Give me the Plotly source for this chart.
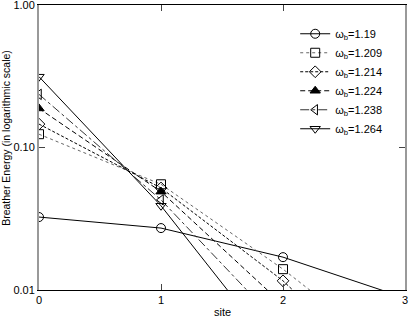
import plotly.graph_objects as go

# breather energy per site (site 3 and some site 2
# values lie below 0.01 and are clipped by the axis range, like the original)
sites = [0, 1, 2, 3]
omega_labels = ['1.19', '1.209', '1.214', '1.224', '1.238', '1.264']
e_119 = [0.0325, 0.0272, 0.0170, 0.0088]
e_1209 = [0.124, 0.0552, 0.0140, 0.0030]
e_1214 = [0.146, 0.0520, 0.0116, 0.0018]
e_1224 = [0.188, 0.0490, 0.0079, 0.0015]
e_1238 = [0.236, 0.0429, 0.0054, 0.0010]
e_1264 = [0.314, 0.0390, 0.0032, 0.0005]

series = [e_119, e_1209, e_1214, e_1224, e_1238, e_1264]
symbols = ['circle-open', 'square-open', 'diamond-open', 'triangle-up',
           'triangle-left-open', 'triangle-down-open']
dashes = ['solid', 'dot', '3px,2px', '5px,3px', 'dashdot', 'solid']
line_colors = ['black', '#666666', 'black', 'black', '#333333', 'black']

fig = go.Figure()
for vals, lab, sym, dash, lc in zip(series, omega_labels, symbols, dashes, line_colors):
    fig.add_trace(go.Scatter(
        x=sites, y=vals, mode='lines+markers',
        name='ω<sub>b</sub>=' + lab,
        line=dict(color=lc, width=1, dash=dash),
        marker=dict(symbol=sym, size=9, color='black',
                    line=dict(color='black', width=1)),
        cliponaxis=True,
    ))

fig.update_layout(
    width=411, height=327,
    margin=dict(l=39, r=6, t=5, b=37, autoexpand=False),
    plot_bgcolor='white', paper_bgcolor='white',
    font=dict(family='Liberation Sans, Arial, sans-serif', size=11, color='black'),
    legend=dict(x=0.70, y=0.95, xanchor='left', yanchor='top',
                bgcolor='rgba(0,0,0,0)', font=dict(size=11),
                tracegroupgap=0, itemwidth=30),
    showlegend=True,
)
# axis titles as annotations so they sit where the original has them
fig.add_annotation(text='site', xref='paper', yref='paper', x=0.5, y=-0.077,
                   xanchor='center', yanchor='middle', showarrow=False,
                   font=dict(size=11))
fig.add_annotation(text='Breather Energy (in logarithmic scale)',
                   xref='paper', yref='paper', x=-0.092, y=0.535,
                   xanchor='center', yanchor='middle', textangle=-90,
                   showarrow=False, font=dict(size=10.5))
fig.update_xaxes(
    range=[0, 3], tickvals=[0, 1, 2, 3], ticks='inside', ticklen=6,
    showline=True, linecolor='black', linewidth=1, mirror='ticks',
    showgrid=False, zeroline=False, automargin=False, ticklabeloverflow='allow',
)
fig.update_yaxes(
    type='log', range=[-2.0001, 0.0001], tickvals=[0.01, 0.1, 1],
    ticktext=['0.01', '0.10', '1.00'], ticks='inside', ticklen=6,
    showline=True, linecolor='#999999', linewidth=2, mirror='ticks',
    showgrid=False, zeroline=False, automargin=False, ticklabeloverflow='allow',
)

# drop the default page margin so the figure sits at the window's corner
fig.write_html('out.html', config={'displayModeBar': False},
               post_script="document.body.style.margin='0';")
